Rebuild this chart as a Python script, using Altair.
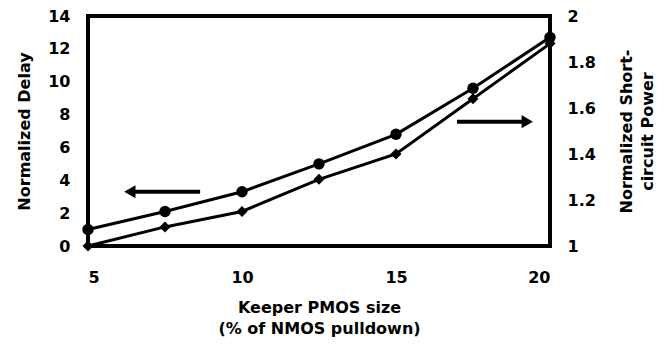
import altair as alt
import pandas as pd

x_size = [5, 7.5, 10, 12.5, 15, 17.5, 20]
delay = [1.0, 2.1, 3.3, 5.0, 6.8, 9.6, 12.7]
power = [1.0, 1.083, 1.15, 1.29, 1.40, 1.64, 1.88]

# arrows: shaft start x, arrowhead centre x, y (delay units)
arrow_start_x = [8.64, 16.98]
arrow_head_x = [6.42, 19.2]
arrow_y = [3.3, 7.57]
arrow_angle = [270, 90]

df = pd.DataFrame({"x": x_size, "delay": delay, "power": power})
arr = pd.DataFrame({"x1": arrow_start_x, "x2": arrow_head_x, "y": arrow_y, "angle": arrow_angle})

FONT = "DejaVu Sans"
FS = 16
xs = alt.Scale(domain=[5, 20], nice=False)
ys_l = alt.Scale(domain=[0, 14], nice=False)
ys_r = alt.Scale(domain=[1, 2], nice=False)

common = dict(grid=False, domain=False, ticks=False, labelOverlap=False,
              labelFont=FONT, labelFontSize=FS, labelFontWeight="bold", labelColor="black",
              titleFont=FONT, titleFontSize=FS, titleFontWeight="bold", titleColor="black")

xax = alt.Axis(values=[5, 10, 15, 20], title=["Keeper PMOS size", "(% of NMOS pulldown)"],
               labelPadding=23, titlePadding=14, titleLineHeight=21, **common)
left_ax = alt.Axis(values=list(range(0, 15, 2)), title="Normalized Delay",
                   labelPadding=18, titlePadding=15, **common)
right_ax = alt.Axis(values=[1, 1.2, 1.4, 1.6, 1.8, 2], format="~g",
                    title=["Normalized Short-", "circuit Power"], orient="right",
                    labelPadding=17, titleAngle=270, titlePadding=18, titleLineHeight=21,
                    **common)

X = alt.X("x:Q", scale=xs, axis=xax)
YL = alt.Y("delay:Q", scale=ys_l, axis=left_ax)
YR = alt.Y("power:Q", scale=ys_r, axis=right_ax)

delay_line = alt.Chart(df).mark_line(color="black", strokeWidth=3).encode(x=X, y=YL)
delay_pts = alt.Chart(df).mark_point(shape="circle", filled=True, color="black", size=130,
                                     opacity=1).encode(x=X, y=YL)
arrow_shaft = alt.Chart(arr).mark_rule(color="black", strokeWidth=4).encode(
    x=alt.X("x1:Q", scale=xs, axis=xax), x2="x2:Q",
    y=alt.Y("y:Q", scale=ys_l, axis=left_ax))
arrow_head = alt.Chart(arr).mark_point(shape="triangle", filled=True, color="black",
                                       size=170, opacity=1).encode(
    x=alt.X("x2:Q", scale=xs, axis=xax), y=alt.Y("y:Q", scale=ys_l, axis=left_ax),
    angle=alt.Angle("angle:Q", scale=None))

left_layer = alt.layer(delay_line, delay_pts, arrow_shaft, arrow_head)

power_line = alt.Chart(df).mark_line(color="black", strokeWidth=3).encode(x=X, y=YR)
power_pts = alt.Chart(df).mark_point(shape="diamond", filled=True, color="black", size=120,
                                     opacity=1).encode(x=X, y=YR)
right_layer = alt.layer(power_line, power_pts)

chart = alt.layer(left_layer, right_layer).resolve_scale(y="independent").properties(
    width=462, height=230,
    autosize=alt.AutoSizeParams(type="none"),
    padding={"left": 80, "top": 8, "right": 110, "bottom": 93},
    background="white",
).configure_view(stroke="black", strokeWidth=4)

chart.save("out.html", embed_options={"renderer": "svg", "actions": False})
